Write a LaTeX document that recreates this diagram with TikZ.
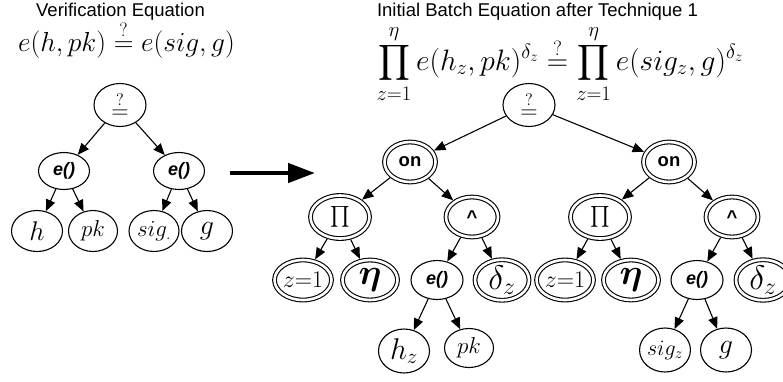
\RequirePackage{fix-cm}
\documentclass[tikz,border=0pt]{standalone}
\usepackage{amsmath}
\usepackage{fontspec}
\newfontfamily\helv{Liberation Sans}
\usetikzlibrary{shapes.geometric,arrows.meta}
\newcommand\fsz[1]{\fontsize{#1}{#1}\selectfont}
\tikzset{
  nd/.style={ellipse, draw, line width=1.1pt, inner sep=0pt, minimum width=51pt, minimum height=41pt},
  dnd/.style={ellipse, draw, double, double distance=2.6pt, line width=1.1pt, inner sep=0pt,
              outer sep=2.4pt, minimum width=54pt, minimum height=40pt},
  ar/.style={-{Triangle[length=11.5pt,width=9.5pt]}, line width=1.1pt},
  bigar/.style={-{Triangle[length=27pt,width=19pt]}, line width=4.5pt},
  ttl/.style={anchor=base, inner sep=0pt, font=\helv\fsz{18.5}},
  opf/.style={font=\helv\bfseries\fsz{18.5}},
  epf/.style={font=\helv\bfseries\itshape\fsz{18}},
}
\begin{document}
\begin{tikzpicture}[x=1pt,y=1pt]
\useasboundingbox (0,0) rectangle (783,-381);
% ---------- left part ----------
\node[ttl] (t1) at (120.5,-16) {Verification Equation};
\node[anchor=base, inner sep=0pt] (eq1) at (126.5,-51) {\fsz{27.5}$e(h,pk)\stackrel{?}{=}e(sig,g)$};
\node[nd, minimum width=52pt, minimum height=43pt] (r1) at (120,-105) {\fsz{24}$\stackrel{?}{=}$};
\node[nd, minimum height=37pt, epf] (e1) at (64,-171) {e()};
\node[nd, minimum height=37pt, epf] (e2) at (179,-171) {e()};
\node[nd] (h1) at (37,-231) {\fsz{27}$h$};
\node[nd, minimum width=49pt] (pk1) at (93,-231) {\fsz{23}$pk$};
\node[nd, minimum width=50pt] (sig1) at (154,-231) {\fsz{23}$sig_{.}$};
\node[nd] (g1) at (207,-231) {\fsz{28}$g$};
\draw[ar] (r1) -- (e1);
\draw[ar] (r1) -- (e2);
\draw[ar] (e1) -- (h1);
\draw[ar] (e1) -- (pk1);
\draw[ar] (e2) -- (sig1);
\draw[ar] (e2) -- (g1);
% ---------- big arrow ----------
\coordinate (bs) at (230,-173);
\coordinate (be) at (315,-173);
\draw[bigar] (bs) -- (be);
% ---------- right part ----------
\node[ttl] (t2) at (537.5,-16) {Initial Batch Equation after Technique 1};
\node[inner sep=0pt] (eq2) at (560,-64) {\fsz{29.5}$\displaystyle\prod_{z=1}^{\eta} e(h_z,pk)^{\delta_z}\stackrel{?}{=}\prod_{z=1}^{\eta} e(sig_z,g)^{\delta_z}$};
\node[nd, minimum width=52pt, minimum height=43pt] (r2) at (529,-105) {\fsz{24}$\stackrel{?}{=}$};
\node[dnd, minimum width=51pt, opf] (on1) at (410,-162) {on};
\node[dnd, minimum width=51pt, opf] (on2) at (669,-162) {on};
\node[dnd, minimum width=59pt, minimum height=43pt] (P1) at (340,-217) {\fsz{22}$\prod$};
\node[dnd, minimum width=52pt, opf] (c1) at (472,-217) {\textasciicircum};
\node[dnd, minimum width=59pt, minimum height=43pt] (P2) at (600,-217) {\fsz{22}$\prod$};
\node[dnd, minimum width=52pt, opf] (c2) at (732,-217) {\textasciicircum};
\node[dnd, minimum width=55pt] (z1) at (303,-280) {\fsz{24}$z{=}1$};
\node[dnd, minimum width=55pt] (eta1) at (370,-280) {\fsz{36}$\boldsymbol{\eta}$};
\node[nd, minimum width=52pt, minimum height=39pt, epf] (e3) at (437,-280) {e()};
\node[dnd] (d1) at (502,-280) {\fsz{34}$\delta_z$};
\node[dnd, minimum width=55pt] (z2) at (565,-280) {\fsz{24}$z{=}1$};
\node[dnd, minimum width=55pt] (eta2) at (631,-280) {\fsz{36}$\boldsymbol{\eta}$};
\node[nd, minimum width=52pt, minimum height=39pt, epf] (e4) at (697,-280) {e()};
\node[dnd] (d2) at (763,-280) {\fsz{34}$\delta_z$};
\node[nd, minimum height=44pt] (hz) at (404,-351) {\fsz{30}$h_z$};
\node[nd, minimum width=49pt, minimum height=39pt] (pk2) at (469,-348) {\fsz{23}$pk$};
\node[nd, minimum width=49pt, minimum height=44pt] (sigz) at (665,-350) {\fsz{22}$sig_z$};
\node[nd, minimum height=44pt] (g2) at (726,-350) {\fsz{28}$g$};
\draw[ar] (r2) -- (on1);
\draw[ar] (r2) -- (on2);
\draw[ar] (on1) -- (P1);
\draw[ar] (on1) -- (c1);
\draw[ar] (P1) -- (z1);
\draw[ar] (P1) -- (eta1);
\draw[ar] (c1) -- (e3);
\draw[ar] (c1) -- (d1);
\draw[ar] (e3) -- (hz);
\draw[ar] (e3) -- (pk2);
\draw[ar] (on2) -- (P2);
\draw[ar] (on2) -- (c2);
\draw[ar] (P2) -- (z2);
\draw[ar] (P2) -- (eta2);
\draw[ar] (c2) -- (e4);
\draw[ar] (c2) -- (d2);
\draw[ar] (e4) -- (sigz);
\draw[ar] (e4) -- (g2);
\end{tikzpicture}
\end{document}
